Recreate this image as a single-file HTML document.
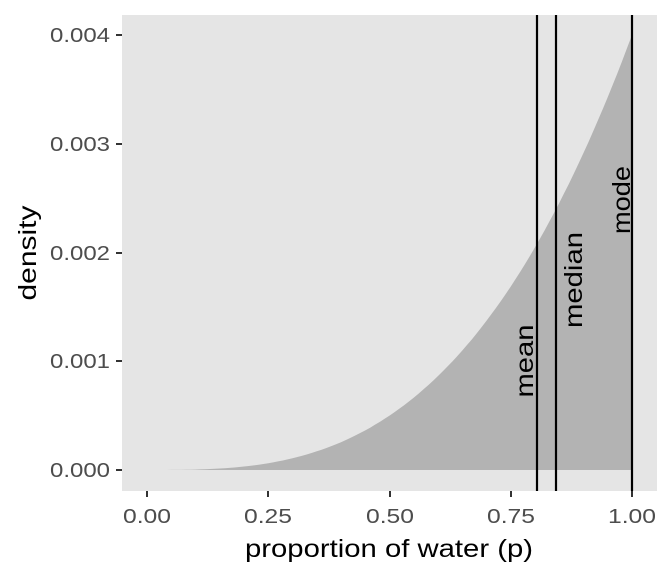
<!DOCTYPE html>
<html><head><style>body{margin:0;background:#fff}</style></head><body>
<svg width="672" height="576" xmlns="http://www.w3.org/2000/svg" font-family="Liberation Sans, sans-serif">
<rect x="122" y="15" width="535" height="476" fill="#e5e5e5"/>
<path id="area" fill="#b3b3b3" d=""/>
<line x1="537" y1="15" x2="537" y2="491" stroke="#000" stroke-width="2.2"/>
<line x1="556" y1="15" x2="556" y2="491" stroke="#000" stroke-width="2.2"/>
<line x1="632" y1="15" x2="632" y2="491" stroke="#000" stroke-width="2.2"/>
<g font-size="25" fill="#000" text-anchor="middle">
<text transform="translate(533,361) rotate(-90)" textLength="73" lengthAdjust="spacingAndGlyphs">mean</text>
<text transform="translate(582,280) rotate(-90)" textLength="96" lengthAdjust="spacingAndGlyphs">median</text>
<text transform="translate(630,200) rotate(-90)" textLength="68" lengthAdjust="spacingAndGlyphs">mode</text>
</g>
<g stroke="#333" stroke-width="2">
<line x1="116" y1="470" x2="122" y2="470"/><line x1="116" y1="361" x2="122" y2="361"/>
<line x1="116" y1="253" x2="122" y2="253"/><line x1="116" y1="144" x2="122" y2="144"/>
<line x1="116" y1="35" x2="122" y2="35"/>
<line x1="147" y1="491" x2="147" y2="497"/><line x1="268" y1="491" x2="268" y2="497"/>
<line x1="390" y1="491" x2="390" y2="497"/><line x1="511" y1="491" x2="511" y2="497"/>
<line x1="632" y1="491" x2="632" y2="497"/>
</g>
<g font-size="20" fill="#4d4d4d" text-anchor="end">
<text x="110" y="477" textLength="60" lengthAdjust="spacingAndGlyphs">0.000</text>
<text x="110" y="368" textLength="60" lengthAdjust="spacingAndGlyphs">0.001</text>
<text x="110" y="260" textLength="60" lengthAdjust="spacingAndGlyphs">0.002</text>
<text x="110" y="151" textLength="60" lengthAdjust="spacingAndGlyphs">0.003</text>
<text x="110" y="42" textLength="60" lengthAdjust="spacingAndGlyphs">0.004</text>
</g>
<g font-size="20" fill="#4d4d4d" text-anchor="middle">
<text x="147" y="523" textLength="48" lengthAdjust="spacingAndGlyphs">0.00</text>
<text x="268" y="523" textLength="48" lengthAdjust="spacingAndGlyphs">0.25</text>
<text x="390" y="523" textLength="48" lengthAdjust="spacingAndGlyphs">0.50</text>
<text x="511" y="523" textLength="48" lengthAdjust="spacingAndGlyphs">0.75</text>
<text x="632" y="523" textLength="48" lengthAdjust="spacingAndGlyphs">1.00</text>
</g>
<text x="389" y="557" font-size="25" text-anchor="middle" textLength="288" lengthAdjust="spacingAndGlyphs">proportion of water (p)</text>
<text transform="translate(36,253) rotate(-90)" font-size="25" text-anchor="middle" textLength="95" lengthAdjust="spacingAndGlyphs">density</text>
<script>
var d="M147,470";for(var i=0;i<=100;i++){var p=i/100;d+=" L"+(147+485*p).toFixed(1)+","+(470-435*p*p*p).toFixed(1);}
d+=" L632,470 Z";document.getElementById("area").setAttribute("d",d);
</script>
</svg>
</body></html>
